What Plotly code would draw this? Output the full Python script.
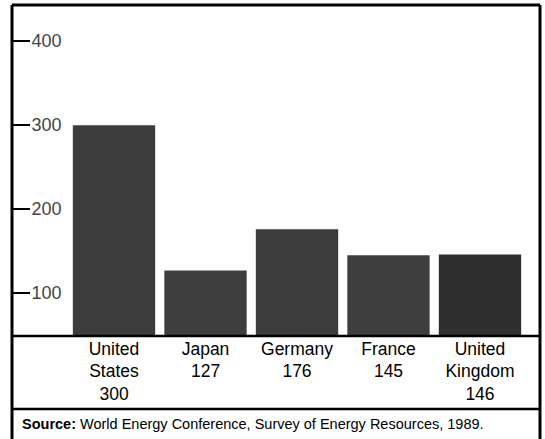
import plotly.graph_objects as go

countries = ["United<br>States", "Japan", "Germany", "France", "United<br>Kingdom"]
values = [300, 127, 176, 145, 146]
bar_colors = ["#3c3c3c", "#3e3e3e", "#3c3c3c", "#3e3e3e", "#2e2e2e"]
y_ticks = [100, 200, 300, 400]
source_text = "<b>Source:</b> World Energy Conference, Survey of Energy Resources, 1989."

W, H = 545, 439
L, R, T, B = 12, 5, 5, 103
ph = H - T - B

def py(pix):
    return (H - B - pix) / ph

def px(pix):
    return (pix - L) / (W - L - R)

labels = [f"{c}<br>{v}" for c, v in zip(countries, values)]
xs = list(range(len(values)))

fig = go.Figure(go.Bar(
    x=xs, y=values, width=0.9,
    marker=dict(color=bar_colors, line=dict(width=0)),
    hoverinfo="skip",
))

font = "Liberation Sans, Arial, Helvetica, sans-serif"

fig.update_layout(
    width=W, height=H,
    margin=dict(l=L, r=R, t=T, b=B, pad=0),
    paper_bgcolor="white", plot_bgcolor="white",
    showlegend=False,
    font=dict(family=font, color="black", size=17),
    xaxis=dict(
        range=[-1.115, 4.656], tickvals=xs, ticktext=labels,
        showgrid=False, zeroline=False, showline=False,
        ticks="", tickfont=dict(size=17.5), fixedrange=True,
    ),
    yaxis=dict(
        range=[49, 443], tickvals=y_ticks, showgrid=False, zeroline=False,
        showline=False, ticks="inside", ticklen=18, tickwidth=2, tickcolor="black",
        ticklabelposition="inside", ticklabelstandoff=2,
        tickfont=dict(size=18), fixedrange=True,
    ),
)

line = dict(color="black", width=3)
# outer frame and dividers
fig.add_shape(type="line", xref="paper", yref="paper", x0=0, x1=0, y0=1, y1=py(439), line=line)
fig.add_shape(type="line", xref="paper", yref="paper", x0=1, x1=1, y0=1, y1=py(439), line=line)
fig.add_shape(type="line", xref="paper", yref="paper", x0=0, x1=1, y0=1, y1=1, line=line)
fig.add_shape(type="line", xref="paper", yref="paper", x0=0, x1=1, y0=0, y1=0, line=dict(color="black", width=2.5))
fig.add_shape(type="line", xref="paper", yref="paper", x0=0, x1=1, y0=py(409), y1=py(409), line=dict(color="black", width=2.5))

fig.add_annotation(
    text=source_text, xref="paper", yref="paper", x=px(20), y=py(424),
    xanchor="left", yanchor="middle", showarrow=False,
    font=dict(size=14.5, family=font, color="black"),
)

fig.write_html("out.html")
